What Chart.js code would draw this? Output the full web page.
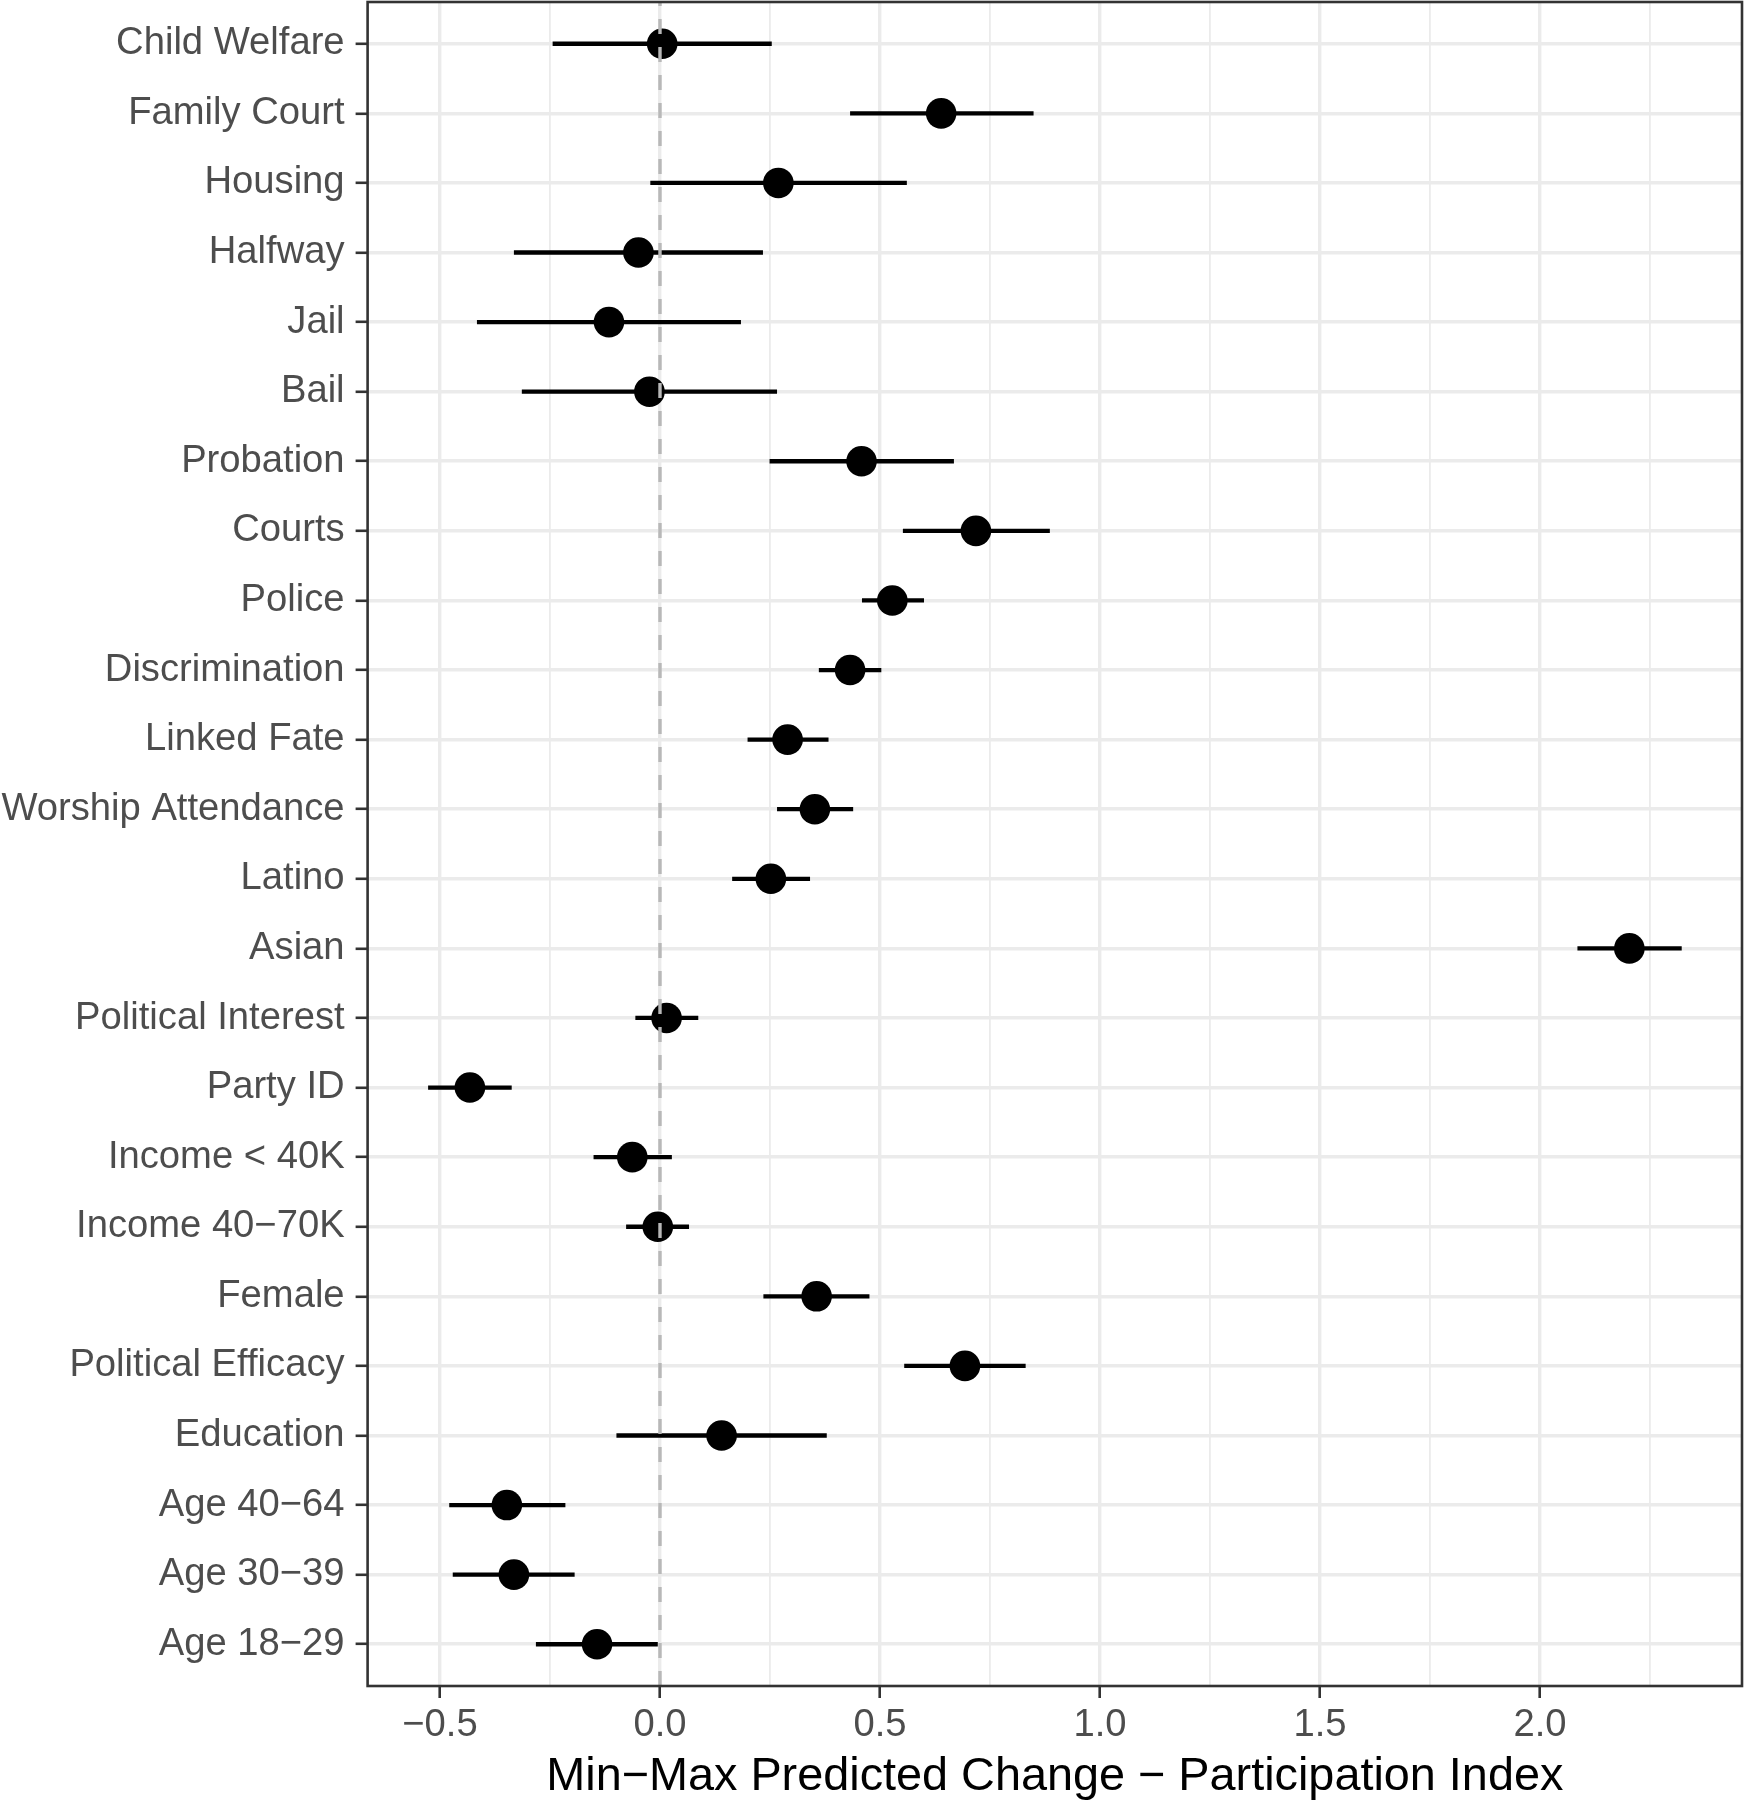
<!DOCTYPE html>
<html>
<head>
<meta charset="utf-8">
<script src="https://cdn.jsdelivr.net/npm/chart.js@4.4.1/dist/chart.umd.min.js"></script>
<style>
  html, body { margin: 0; padding: 0; background: #ffffff; }
  #wrap { width: 1745px; height: 1800px; }
</style>
</head>
<body>
<div id="wrap"><canvas id="c" width="1745" height="1800"></canvas></div>
<script>
// ---- Data (top to bottom as in the figure) ----
const categories = [
  "Child Welfare", "Family Court", "Housing", "Halfway", "Jail", "Bail",
  "Probation", "Courts", "Police", "Discrimination", "Linked Fate",
  "Worship Attendance", "Latino", "Asian", "Political Interest", "Party ID",
  "Income < 40K", "Income 40\u221270K", "Female", "Political Efficacy",
  "Education", "Age 40\u221264", "Age 30\u221239", "Age 18\u221229"
];
const estimates = [
  0.005, 0.639, 0.269, -0.049, -0.116, -0.024,
  0.458, 0.718, 0.528, 0.432, 0.290,
  0.352, 0.252, 2.203, 0.015, -0.432,
  -0.063, -0.005, 0.356, 0.693,
  0.140, -0.348, -0.332, -0.143
];
const lowerCI = [
  -0.244, 0.432, -0.022, -0.332, -0.416, -0.314,
  0.249, 0.552, 0.459, 0.361, 0.199,
  0.266, 0.164, 2.085, -0.056, -0.527,
  -0.151, -0.077, 0.235, 0.555,
  -0.099, -0.479, -0.471, -0.282
];
const upperCI = [
  0.254, 0.849, 0.561, 0.234, 0.184, 0.266,
  0.668, 0.886, 0.600, 0.503, 0.383,
  0.439, 0.341, 2.322, 0.087, -0.337,
  0.027, 0.066, 0.476, 0.831,
  0.379, -0.215, -0.194, -0.005
];
const xMajorTicks = [-0.5, 0, 0.5, 1, 1.5, 2];
const xMinorTicks = [-0.25, 0.25, 0.75, 1.25, 1.75, 2.25];
const xTitle = "Min\u2212Max Predicted Change \u2212 Participation Index";
const refValue = 0;

// ---- Style ----
const FONT = "'Liberation Sans', Arial, Helvetica, sans-serif";
const GRID = '#EBEBEB';
const DARK = '#333333';
const TICKTXT = '#4D4D4D';

const pointData = estimates.map((v, i) => ({ x: v, y: i }));
const errorDatasets = categories.map((c, i) => ({
  type: 'line',
  label: c + ' CI',
  data: [{ x: lowerCI[i], y: i }, { x: upperCI[i], y: i }],
  borderColor: '#000000',
  borderWidth: 4.3,
  borderCapStyle: 'butt',
  pointRadius: 0,
  pointHoverRadius: 0,
  fill: false,
  showLine: true,
  order: 2
}));

const overlayPlugin = {
  id: 'overlay',
  afterDatasetsDraw(chart) {
    const { ctx, chartArea, scales } = chart;
    const x0 = scales.x.getPixelForValue(refValue);
    ctx.save();
    ctx.strokeStyle = '#B8B8B8';
    ctx.lineWidth = 3.4;
    ctx.setLineDash([15, 13]);
    ctx.beginPath();
    ctx.moveTo(x0, chartArea.bottom);
    ctx.lineTo(x0, chartArea.top);
    ctx.stroke();
    ctx.setLineDash([]);
    ctx.strokeStyle = DARK;
    ctx.lineWidth = 2.6;
    ctx.strokeRect(chartArea.left, chartArea.top, chartArea.right - chartArea.left, chartArea.bottom - chartArea.top);
    ctx.restore();
  }
};

const fmt = v => {
  const s = Number(v).toFixed(1);
  return s.startsWith('-') ? '\u2212' + s.slice(1) : s;
};
const isMajor = v => xMajorTicks.some(t => Math.abs(t - v) < 1e-9);

new Chart(document.getElementById('c'), {
  type: 'scatter',
  data: {
    datasets: [
      {
        type: 'scatter',
        label: 'Estimate',
        data: pointData,
        pointRadius: 15.3,
        pointHoverRadius: 15.3,
        pointBackgroundColor: '#000000',
        pointBorderWidth: 0,
        borderWidth: 0,
        order: 1
      },
      ...errorDatasets
    ]
  },
  options: {
    responsive: false,
    animation: false,
    events: [],
    layout: { autoPadding: false, padding: { left: 0, top: 2, right: 3, bottom: 0 } },
    plugins: { legend: { display: false }, tooltip: { enabled: false } },
    scales: {
      x: {
        type: 'linear',
        min: -0.6645,
        max: 2.459,
        afterBuildTicks: s => {
          s.ticks = [...xMajorTicks, ...xMinorTicks].sort((a, b) => a - b).map(v => ({ value: v }));
        },
        afterFit: s => {
          s.height = 114;
          s.paddingLeft = 0; s.paddingRight = 0; s.paddingTop = 0; s.paddingBottom = 0;
        },
        border: { display: false },
        grid: {
          color: GRID,
          lineWidth: c => (c.tick && isMajor(c.tick.value)) ? 3.4 : 1.8,
          drawTicks: true,
          tickLength: 12,
          tickColor: c => (c.tick && isMajor(c.tick.value)) ? DARK : 'rgba(0,0,0,0)',
          tickWidth: 2.6
        },
        ticks: {
          autoSkip: false,
          maxRotation: 0,
          padding: 5,
          color: TICKTXT,
          font: { family: FONT, size: 38.2 },
          callback: v => isMajor(v) ? fmt(v) : ''
        },
        title: {
          display: true,
          text: xTitle,
          color: '#000000',
          font: { family: FONT, size: 46.8, lineHeight: 1.0 },
          padding: { top: 0, bottom: 0 }
        }
      },
      y: {
        type: 'linear',
        reverse: true,
        min: -0.6,
        max: 23.6,
        afterBuildTicks: s => { s.ticks = categories.map((c, i) => ({ value: i })); },
        afterFit: s => {
          s.width = 367.6;
          s.paddingLeft = 0; s.paddingRight = 0; s.paddingTop = 0; s.paddingBottom = 0;
        },
        border: { display: false },
        grid: {
          color: GRID,
          lineWidth: 3.6,
          drawTicks: true,
          tickLength: 12,
          tickColor: DARK,
          tickWidth: 2.6
        },
        ticks: {
          autoSkip: false,
          padding: 11,
          color: TICKTXT,
          font: { family: FONT, size: 38.2 },
          callback: v => categories[v]
        }
      }
    }
  },
  plugins: [overlayPlugin]
});
</script>
</body>
</html>
